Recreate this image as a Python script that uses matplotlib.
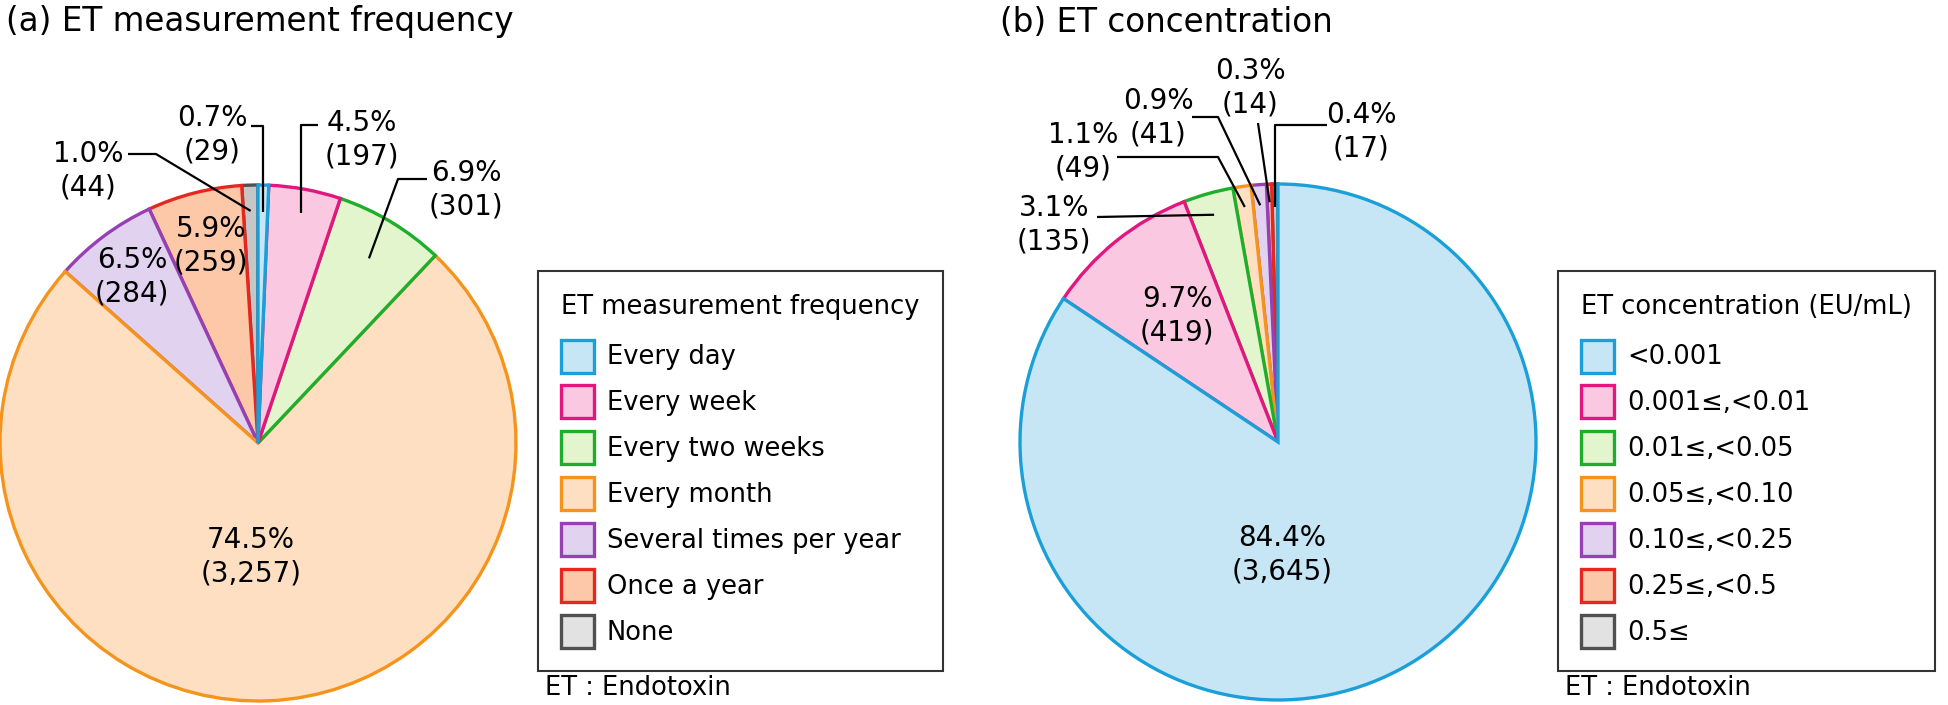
import numpy as np
import matplotlib
matplotlib.use("Agg")
import matplotlib.pyplot as plt
from matplotlib.patches import Patch

plt.rcParams['font.family'] = ['DejaVu Sans']

# ---- data ----
freq_labels = ['Every day', 'Every week', 'Every two weeks', 'Every month',
               'Several times per year', 'Once a year', 'None']
freq_counts = [29, 197, 301, 3257, 284, 259, 44]

conc_labels = ['<0.001', '0.001≤,<0.01', '0.01≤,<0.05', '0.05≤,<0.10',
               '0.10≤,<0.25', '0.25≤,<0.5', '0.5≤']
conc_counts = [3645, 419, 135, 49, 41, 14, 17]

# ---- styles ----
edge_colors = ['#1a9fd9', '#e3167f', '#1fae2c', '#f5941d', '#9640b4', '#e4281f', '#505050']
face_colors = ['#c6e6f5', '#fac8e0', '#e2f5cc', '#fedfc1', '#e1d3ef', '#fcc8a8', '#c6c6c6']
legend_faces = face_colors[:-1] + ['#e2e2e2']

W, H = 1948, 705
R = 258
LABEL_FS = 20


def fx(x):
    return x / W


def fy(y):
    return 1 - y / H


def make_pie(cx, cy, counts):
    ax = fig.add_axes([fx(cx - R), fy(cy + R), 2 * R / W, 2 * R / H])
    wedges, _ = ax.pie(counts, colors=face_colors, startangle=90, counterclock=False,
                       wedgeprops=dict(linewidth=2.4))
    n = len(wedges)
    for i, w in enumerate(wedges):
        w.set_edgecolor(edge_colors[i])
        w.set_zorder(1 + (n - i) / 100)  # earlier slice edge sits on top
    ax.set_xlim(-1, 1)
    ax.set_ylim(-1, 1)
    ax.axis('off')
    return ax, wedges


def to_data(cx, cy, p):
    return ((p[0] - cx) / R, (cy - p[1]) / R)


def tip_of(w, r):
    a = np.deg2rad((w.theta1 + w.theta2) / 2)
    return (r * np.cos(a), r * np.sin(a))


def pct_text(counts, i):
    p = counts[i] / sum(counts) * 100
    return f"{p:.1f}%\n({counts[i]:,})"


def annotate(ax, cx, cy, counts, wedges, inside, outside):
    for i, pos in inside.items():
        x, y = to_data(cx, cy, pos)
        ax.text(x, y, pct_text(counts, i), ha='center', va='center',
                fontsize=LABEL_FS, linespacing=1.25, zorder=6)
    for i, (pos, start, elbow, r) in outside.items():
        x, y = to_data(cx, cy, pos)
        ax.text(x, y, pct_text(counts, i), ha='center', va='center',
                fontsize=LABEL_FS, linespacing=1.25, zorder=6)
        tip = tip_of(wedges[i], r)
        s = to_data(cx, cy, start)
        pts = [s]
        if elbow == 'v':
            pts.append((tip[0], s[1]))
        elif elbow is not None:
            pts.append(to_data(cx, cy, elbow))
        pts.append(tip)
        xs, ys = zip(*pts)
        ax.plot(xs, ys, color='black', linewidth=1.6, zorder=5,
                clip_on=False, solid_capstyle='butt')


def add_legend(x, y, labels, title):
    handles = [Patch(facecolor=legend_faces[i], edgecolor=edge_colors[i], linewidth=2.4)
               for i in range(len(labels))]
    leg = fig.legend(handles, labels, title=title, loc='upper left',
                     bbox_to_anchor=(fx(x), fy(y)), frameon=True, fancybox=False,
                     fontsize=18.5, title_fontsize=18.5, handlelength=1.28,
                     handleheight=1.6, handletextpad=0.5, labelspacing=0.5,
                     borderpad=0.9, borderaxespad=0, alignment='left')
    # a bit more room between the legend title and the first entry
    leg._legend_box.sep = 14
    leg.get_frame().set_edgecolor('black')
    leg.get_frame().set_linewidth(1.5)
    return leg


fig = plt.figure(figsize=(W / 100, H / 100), dpi=100)

# (a) measurement frequency
cxa, cya = 258, 443
ax_a, wa = make_pie(cxa, cya, freq_counts)
annotate(ax_a, cxa, cya, freq_counts, wa,
         inside={3: (251, 557), 4: (132, 277), 5: (211, 246)},
         outside={0: ((212, 135), (251, 126), 'v', 0.895),
                  1: ((362, 140), (318, 125), 'v', 0.905),
                  2: ((466, 190), (427, 179), (398, 179), 0.835),
                  6: ((88, 171), (128, 154), (156, 154), 0.9)})

# (b) concentration
cxb, cyb = 1278, 442
ax_b, wb = make_pie(cxb, cyb, conc_counts)
annotate(ax_b, cxb, cyb, conc_counts, wb,
         inside={0: (1282, 555), 1: (1177, 316)},
         outside={2: ((1054, 225), (1097, 217), None, 0.915),
                  3: ((1083, 152), (1117, 157), (1218, 157), 0.92),
                  4: ((1158, 118), (1192, 117), (1218, 117), 0.92),
                  5: ((1250, 88), (1258, 123), None, 0.93),
                  6: ((1361, 132), (1327, 125), 'v', 0.91)})

fig.text(fx(6), fy(22), '(a) ET measurement frequency', fontsize=23.5, va='center', ha='left')
fig.text(fx(1000), fy(22), '(b) ET concentration', fontsize=23.5, va='center', ha='left')

add_legend(538, 271, freq_labels, 'ET measurement frequency')
add_legend(1558, 271, conc_labels, 'ET concentration (EU/mL)')

fig.text(fx(545), fy(688), 'ET : Endotoxin', fontsize=18.5, va='center', ha='left')
fig.text(fx(1565), fy(688), 'ET : Endotoxin', fontsize=18.5, va='center', ha='left')

fig.savefig('out.png', dpi=100)
